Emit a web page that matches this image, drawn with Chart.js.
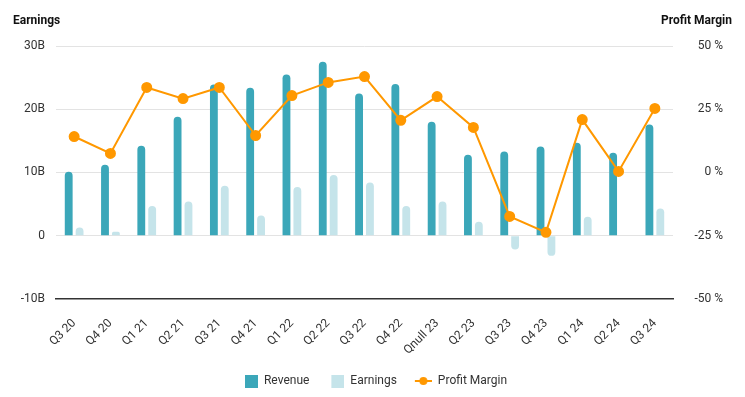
<!DOCTYPE html>
<html>
<head>
<meta charset="utf-8">
<script src="https://cdn.jsdelivr.net/npm/chart.js@4"></script>
<style>
  html, body { margin: 0; padding: 0; background: #fff; }
  #wrap { width: 745px; height: 397px; }
</style>
</head>
<body>
<div id="wrap"><canvas id="earningsChart" width="745" height="397"></canvas></div>
<script>
const quarters = ['Q3 20', 'Q4 20', 'Q1 21', 'Q2 21', 'Q3 21', 'Q4 21', 'Q1 22', 'Q2 22', 'Q3 22',
    'Q4 22', 'Qnull 23', 'Q2 23', 'Q3 23', 'Q4 23', 'Q1 24', 'Q2 24', 'Q3 24'];
const revenue = [10.1, 11.2, 14.2, 18.8, 23.9, 23.4, 25.5, 27.5, 22.5, 24.0, 18.0, 12.8, 13.3, 14.1, 14.7, 13.1, 17.6];
const earnings = [1.3, 0.6, 4.7, 5.4, 7.9, 3.2, 7.7, 9.6, 8.4, 4.7, 5.4, 2.2, -2.2, -3.2, 3.0, null, 4.3];
const profitMargin = [14.2, 7.5, 33.6, 29.2, 33.6, 14.6, 30.4, 35.6, 37.9, 20.6, 30.0, 17.8, -17.4, -23.7, 20.9, 0.4, 25.3];
const earningsTicks = [-10, 0, 10, 20, 30];
const marginTicks = [-50, -25, 0, 25, 50];

const ORANGE = '#FF9800';
const REVENUE_COLOR = '#3BA7B9';
const EARNINGS_COLOR = '#C5E4EA';
const FONT = 'Roboto, "Noto Sans", sans-serif';
const ICON_W = 24; // legend icon slot width

// legend icons: square swatch on the right of the slot, and a line with a dot
function squareIcon(color) {
    const cv = document.createElement('canvas');
    cv.width = ICON_W;
    cv.height = 13;
    const c = cv.getContext('2d');
    c.fillStyle = color;
    c.fillRect(ICON_W - 13, 0, 13, 13);
    return cv;
}
function lineIcon(color) {
    const cv = document.createElement('canvas');
    cv.width = ICON_W;
    cv.height = 10;
    const c = cv.getContext('2d');
    c.strokeStyle = color;
    c.lineWidth = 2;
    c.beginPath();
    c.moveTo(ICON_W - 17, 5);
    c.lineTo(ICON_W, 5);
    c.stroke();
    c.fillStyle = color;
    c.beginPath();
    c.arc(ICON_W - 8.5, 5, 4, 0, Math.PI * 2);
    c.fill();
    return cv;
}
const legendIcons = {
    'Revenue': squareIcon(REVENUE_COLOR),
    'Earnings': squareIcon(EARNINGS_COLOR),
    'Profit Margin': lineIcon(ORANGE)
};
const legendOrder = ['Revenue', 'Earnings', 'Profit Margin'];

// axis titles sitting above the two y axes
const axisTitles = {
    id: 'axisTitles',
    afterDraw(chart) {
        const ctx = chart.ctx;
        ctx.save();
        ctx.font = 'bold 12px ' + FONT;
        ctx.fillStyle = '#111';
        ctx.textBaseline = 'middle';
        ctx.textAlign = 'left';
        ctx.fillText('Earnings', 13, 21);
        ctx.textAlign = 'right';
        ctx.fillText('Profit Margin', 732, 21);
        ctx.restore();
    }
};

Chart.defaults.font.family = FONT;
Chart.defaults.font.size = 12;
Chart.defaults.color = '#333';

new Chart(document.getElementById('earningsChart').getContext('2d'), {
    type: 'bar',
    data: {
        labels: quarters,
        datasets: [
            {
                type: 'line',
                label: 'Profit Margin',
                data: profitMargin,
                yAxisID: 'yMargin',
                borderColor: ORANGE,
                backgroundColor: ORANGE,
                borderWidth: 2,
                pointRadius: 4.5,
                pointHoverRadius: 5,
                tension: 0,
                order: 0
            },
            {
                label: 'Revenue',
                data: revenue,
                yAxisID: 'y',
                backgroundColor: REVENUE_COLOR,
                borderRadius: 4,
                borderSkipped: 'start',
                categoryPercentage: 0.6,
                barPercentage: 0.72,
                order: 1
            },
            {
                label: 'Earnings',
                data: earnings,
                yAxisID: 'y',
                backgroundColor: EARNINGS_COLOR,
                borderRadius: 4,
                borderSkipped: 'start',
                categoryPercentage: 0.6,
                barPercentage: 0.72,
                order: 2
            }
        ]
    },
    options: {
        responsive: false,
        animation: false,
        layout: { padding: { top: 46, right: 22, left: 18, bottom: 0 } },
        plugins: {
            tooltip: { enabled: false },
            legend: {
                position: 'bottom',
                labels: {
                    usePointStyle: true,
                    pointStyleWidth: ICON_W,
                    padding: 11,
                    color: '#333',
                    font: { size: 12 },
                    sort: (a, b) => legendOrder.indexOf(a.text) - legendOrder.indexOf(b.text),
                    generateLabels(chart) {
                        const items = Chart.defaults.plugins.legend.labels.generateLabels(chart);
                        items.forEach(it => {
                            it.pointStyle = legendIcons[it.text];
                            it.lineWidth = 0;
                        });
                        return items;
                    }
                }
            }
        },
        scales: {
            x: {
                grid: { display: false, drawTicks: false },
                border: { display: true, color: '#333', width: 1.5 },
                ticks: { minRotation: 45, maxRotation: 45, padding: 17.5, autoSkip: false },
                afterFit: scale => { scale.height -= 11; }
            },
            y: {
                position: 'left',
                min: -10,
                max: 30,
                afterBuildTicks: scale => { scale.ticks = earningsTicks.map(v => ({ value: v })); },
                afterFit: scale => { scale.width = 38; },
                grid: { color: '#e3e3e3', drawTicks: false },
                border: { display: false },
                ticks: {
                    padding: 11,
                    callback: v => v === 0 ? '0' : v + 'B'
                }
            },
            yMargin: {
                position: 'right',
                min: -50,
                max: 50,
                afterBuildTicks: scale => { scale.ticks = marginTicks.map(v => ({ value: v })); },
                afterFit: scale => { scale.width = 50; },
                grid: { display: false, drawTicks: false },
                border: { display: false },
                ticks: {
                    crossAlign: 'far',
                    callback: v => v + ' %'
                }
            }
        }
    },
    plugins: [axisTitles]
});
</script>
</body>
</html>
